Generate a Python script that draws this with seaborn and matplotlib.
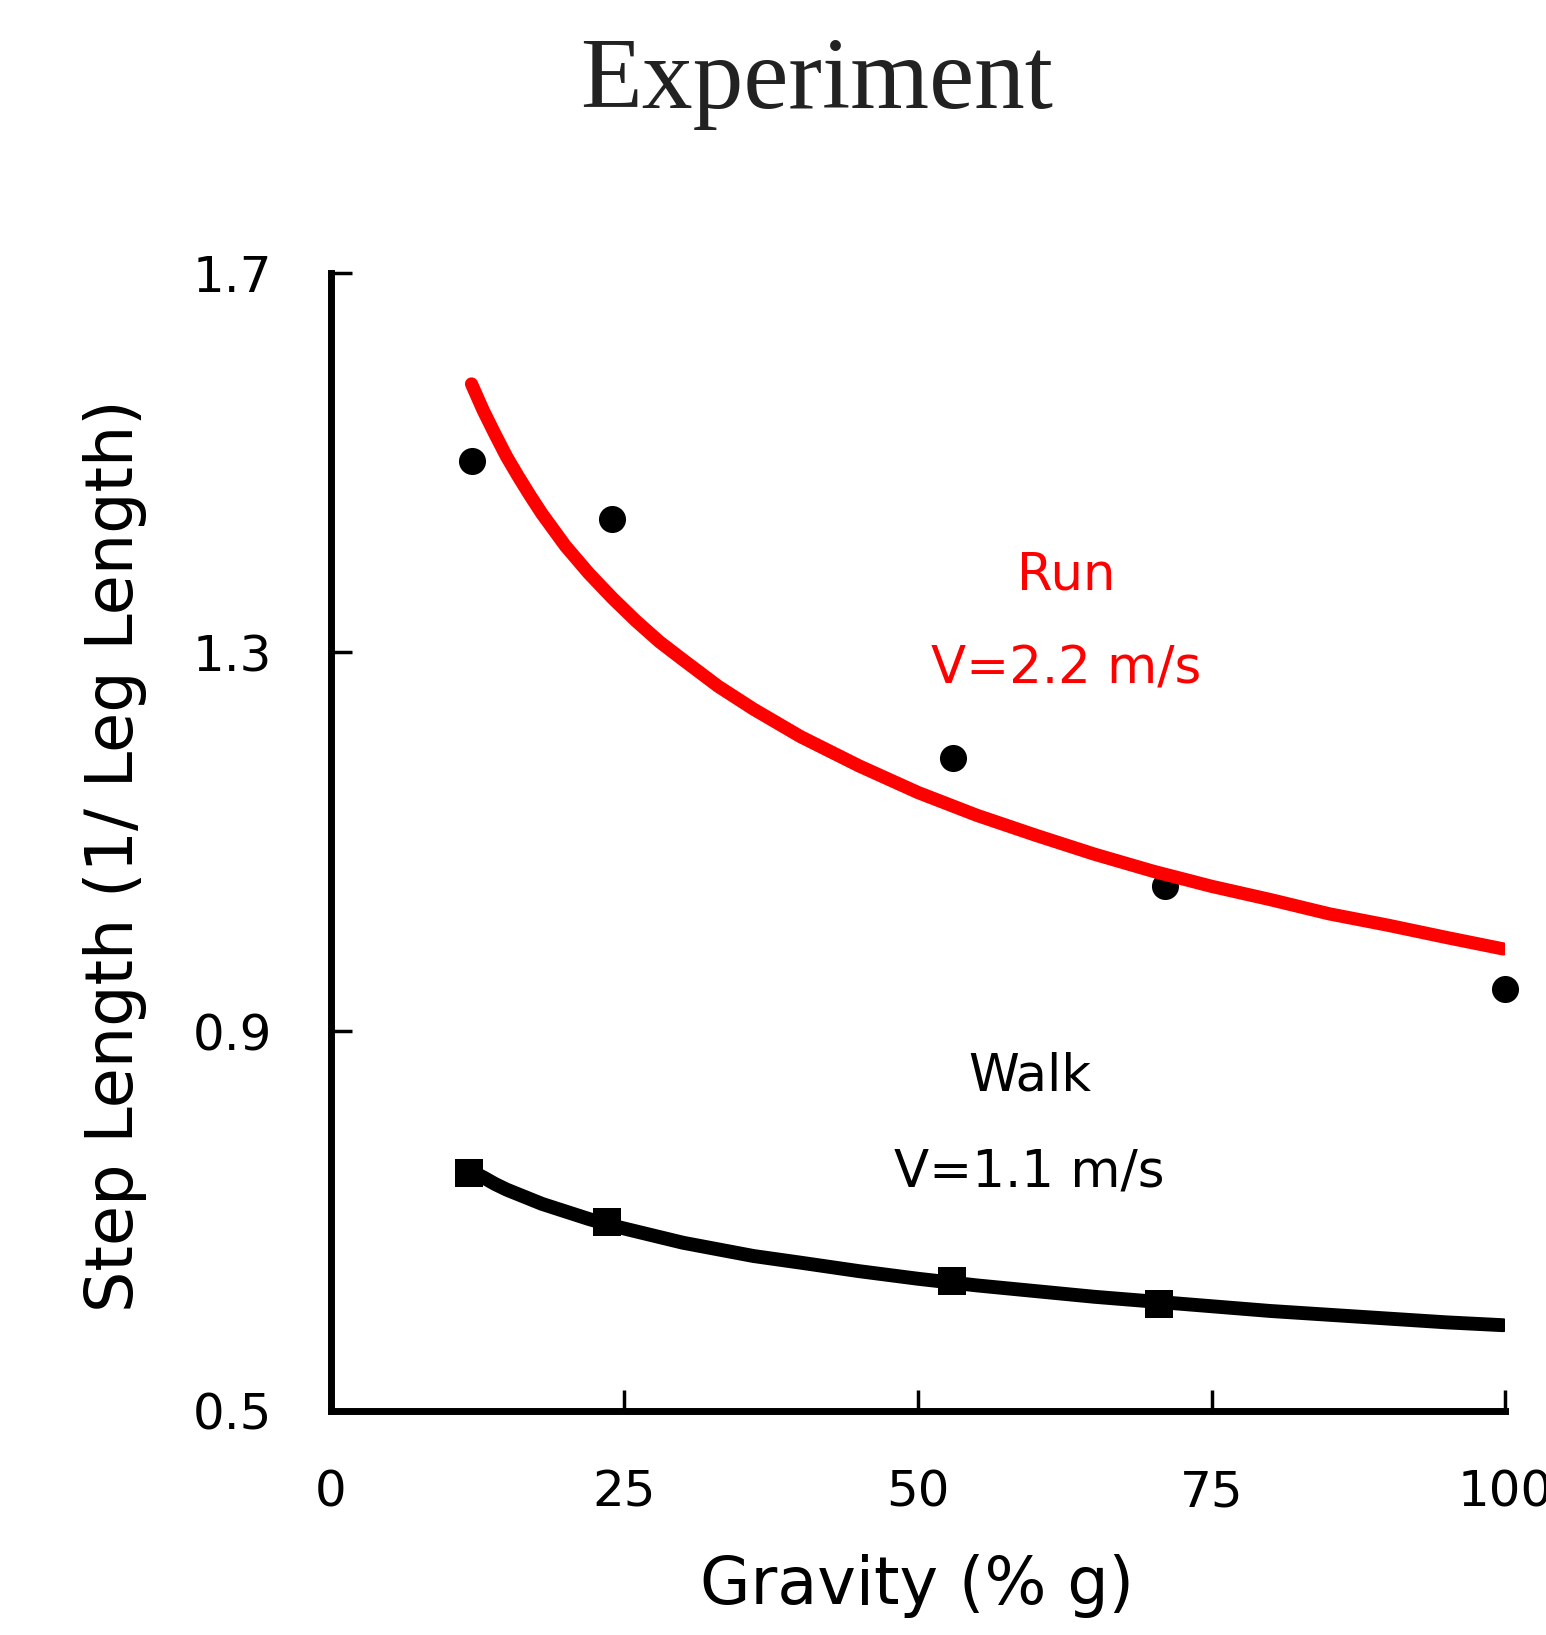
import numpy as np
import pandas as pd
import seaborn as sns
import matplotlib
matplotlib.use("Agg")
import matplotlib.pyplot as plt

# Data points (gravity % g, step length in leg lengths)
run_gravity = [12, 24, 53, 71, 100]
run_step = [1.502, 1.440, 1.188, 1.053, 0.945]
walk_gravity = [11.8, 23.5, 52.9, 70.5]
walk_step = [0.751, 0.699, 0.637, 0.612]

# Fitted curves
run_fit_x = [12, 13, 14, 15, 16, 17, 18, 19, 20, 22, 24, 26, 28, 30, 33, 36, 40, 45, 50,
             55, 60, 65, 70, 75, 80, 85, 90, 95, 99.8]
run_fit_y = [1.583, 1.555, 1.530, 1.506, 1.485, 1.465, 1.446, 1.429, 1.412, 1.383, 1.357,
             1.333, 1.311, 1.292, 1.264, 1.240, 1.211, 1.180, 1.152, 1.128, 1.107, 1.087,
             1.069, 1.053, 1.039, 1.024, 1.012, 0.999, 0.987]
walk_fit_x = [12.2, 13, 14, 15, 16, 17, 18, 19, 20, 22, 24, 26, 28, 30, 33, 36, 40, 45, 50,
              55, 60, 65, 70, 75, 80, 85, 90, 95, 99.8]
walk_fit_y = [0.751, 0.746, 0.739, 0.733, 0.728, 0.723, 0.718, 0.714, 0.710, 0.702, 0.695,
              0.689, 0.683, 0.677, 0.670, 0.663, 0.656, 0.647, 0.639, 0.632, 0.626, 0.620,
              0.615, 0.610, 0.605, 0.601, 0.597, 0.593, 0.590]

xticks = [0, 25, 50, 75, 100]
yticks = [0.5, 0.9, 1.3, 1.7]
ytick_labels = ["0.5", "0.9", "1.3", "1.7"]

sns.set_theme(style="white")
plt.rcParams['font.family'] = ['DejaVu Sans']

fig = plt.figure(figsize=(15.46, 16.35), dpi=100)
ax = fig.add_axes([0.2138, 0.1373, 0.9737 - 0.2138, 0.833 - 0.1373])

run_df = pd.DataFrame({"g": run_gravity, "s": run_step})
walk_df = pd.DataFrame({"g": walk_gravity, "s": walk_step})
run_fit = pd.DataFrame({"g": run_fit_x, "s": run_fit_y})
walk_fit = pd.DataFrame({"g": walk_fit_x, "s": walk_fit_y})

sns.scatterplot(data=run_df, x="g", y="s", ax=ax, marker="o", s=380,
                color="black", edgecolor="black", linewidth=0, zorder=3, clip_on=False)
sns.lineplot(data=run_fit, x="g", y="s", ax=ax, color="#ff0000", linewidth=9.5,
             sort=False, estimator=None, zorder=4, solid_capstyle="round",
             solid_joinstyle="round")
sns.lineplot(data=walk_fit, x="g", y="s", ax=ax, color="black", linewidth=10,
             sort=False, estimator=None, zorder=3, solid_capstyle="round",
             solid_joinstyle="round")
sns.scatterplot(data=walk_df, x="g", y="s", ax=ax, marker="s", s=420,
                color="black", edgecolor="black", linewidth=0, zorder=5, clip_on=False)

ax.set_xlim(0, 100)
ax.set_ylim(0.5, 1.7)
ax.set_xticks(xticks)
ax.set_xticklabels([str(t) for t in xticks])
ax.set_yticks(yticks)
ax.set_yticklabels(ytick_labels)
ax.tick_params(axis="both", direction="in", length=15, width=2.5, color="black",
               labelsize=36, pad=42, labelcolor="black")
ax.tick_params(axis="x", bottom=True)
ax.tick_params(axis="y", left=True)
for side in ["top", "right"]:
    ax.spines[side].set_visible(False)
for side in ["left", "bottom"]:
    ax.spines[side].set_linewidth(5)
    ax.spines[side].set_color("black")
ax.set_xlabel("")
ax.set_ylabel("")
ax.set_facecolor("white")

ax.text(62.6, 1.381, "Run", color="#ff0000", fontsize=37, ha="center", va="center")
ax.text(62.6, 1.282, "V=2.2 m/s", color="#ff0000", fontsize=37, ha="center", va="center")
ax.text(59.5, 0.852, "Walk", color="black", fontsize=37, ha="center", va="center")
ax.text(59.5, 0.751, "V=1.1 m/s", color="black", fontsize=37, ha="center", va="center")

fig.text(0.528, 0.949, "Experiment", fontsize=73, family=["Liberation Serif", "DejaVu Serif"],
         ha="center", va="center", color="#222222")
fig.text(0.593, 0.03, "Gravity (% g)", fontsize=47, ha="center", va="center", color="black")
fig.text(0.0744, 0.4765, "Step Length (1/ Leg Length)", fontsize=47, rotation=90,
         ha="center", va="center", color="black")

fig.savefig("out.png", dpi=100, facecolor="white")
